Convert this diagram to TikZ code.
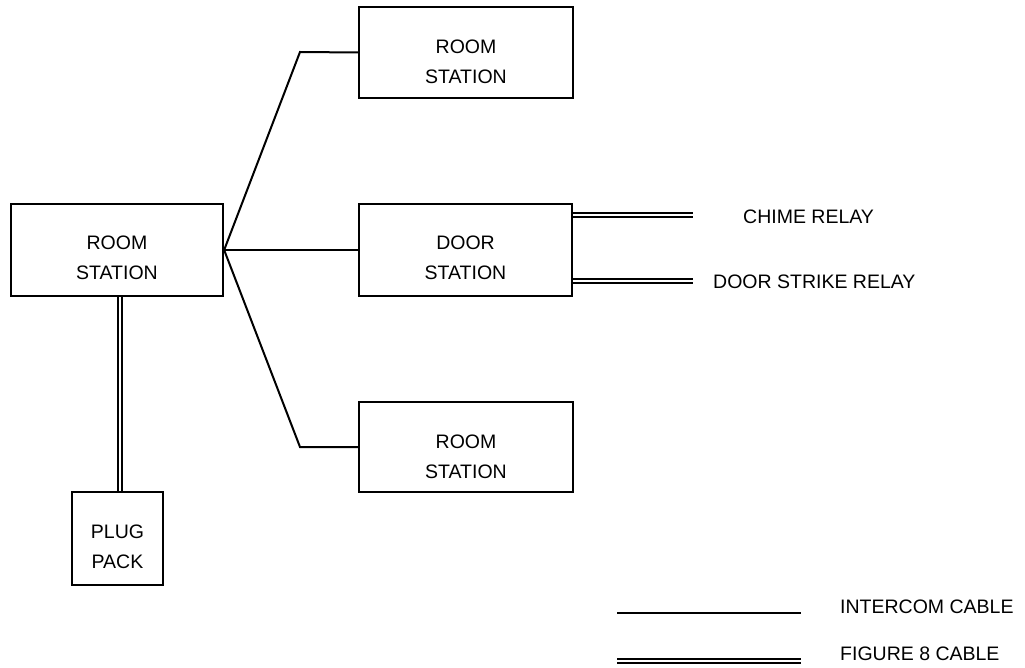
\documentclass[tikz,border=0pt]{standalone}
\usepackage{fontspec}
\setmainfont{Liberation Sans}
\begin{document}
\begin{tikzpicture}[x=1pt,y=-1pt,
  box/.style={draw,line width=2.3pt,inner sep=0pt},
  lbl/.style={font=\fontsize{19.5}{30}\selectfont,align=center,inner sep=0pt},
  wire/.style={line width=2pt},
  fig8/.style={line width=2pt,double,double distance=2.4pt}]
\useasboundingbox (0,0) rectangle (1025,668);
% boxes
\node[box,minimum width=212pt,minimum height=92pt] (main) at (117,250) {};
\node[box,minimum width=214pt,minimum height=91pt] (top) at (466,52.5) {};
\node[box,minimum width=213pt,minimum height=92pt] (door) at (465.5,250) {};
\node[box,minimum width=214pt,minimum height=90pt] (bot) at (466,447) {};
\node[box,minimum width=91pt,minimum height=93pt] (plug) at (117.5,538.5) {};
% box texts
\node[lbl] (mainT) at (117,258) {ROOM\\STATION};
\node[lbl] (topT) at (466,62) {ROOM\\STATION};
\node[lbl] (doorT) at (465.5,258) {DOOR\\STATION};
\node[lbl] (botT) at (466,457) {ROOM\\STATION};
\node[lbl] (plugT) at (117.5,547) {PLUG\\PACK};
% intercom connectors
\coordinate (k1) at (300,52);
\coordinate (k2) at (300,447);
\draw[wire,line join=miter] (main.east) -- (k1) -- (top.west);
\draw[wire,line join=miter] (main.east) -- (k2) -- (bot.west);
\draw[wire] (main.east) -- (door.west);
% figure 8 cables
\draw[fig8] ([xshift=3pt]main.south) -- ([xshift=2.5pt]plug.north);
\coordinate (c1) at (693,215);
\coordinate (c2) at (693,281);
\draw[fig8] (door.east |- c1) -- (c1);
\draw[fig8] (door.east |- c2) -- (c2);
\node[lbl,anchor=west] (chime) at (743,217) {CHIME RELAY};
\node[lbl,anchor=west] (strike) at (713,282) {DOOR STRIKE RELAY};
% legend
\coordinate (l1a) at (617,613);
\coordinate (l1b) at (801,613);
\coordinate (l2a) at (617,661);
\coordinate (l2b) at (801,661);
\draw[wire] (l1a) -- (l1b);
\draw[fig8] (l2a) -- (l2b);
\node[lbl,anchor=west] (legI) at (840,607) {INTERCOM CABLE};
\node[lbl,anchor=west] (legF) at (840,654) {FIGURE 8 CABLE};
\end{tikzpicture}
\end{document}
